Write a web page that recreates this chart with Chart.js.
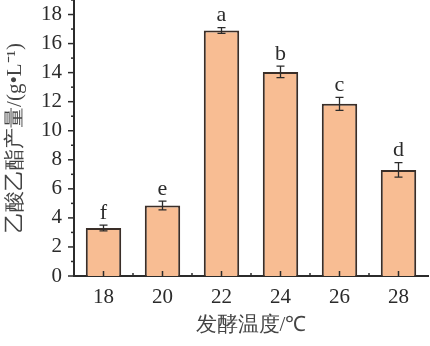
<!DOCTYPE html>
<html>
<head>
<meta charset="utf-8">
<script src="https://cdn.jsdelivr.net/npm/chart.js@4/dist/chart.umd.min.js"></script>
<style>
  html, body { margin: 0; padding: 0; background: #fff; }
  #wrap { width: 430px; height: 346px; }
</style>
</head>
<body>
<div id="wrap"><canvas id="myChart"></canvas></div>
<script>
// data
const temps = ['18', '20', '22', '24', '26', '28']
const yields = [3.3, 4.85, 16.9, 14.05, 11.85, 7.3]
const errors = [0.2, 0.3, 0.2, 0.4, 0.45, 0.5]
const letters = ['f', 'e', 'a', 'b', 'c', 'd']

const serif = '"Liberation Serif", "Times New Roman", serif'
const ink = '#2b2b2b'

// error bars, significance letters, tick marks
const extras = {
  id: 'extras',
  afterDatasetsDraw(chart) {
    const ctx = chart.ctx
    const x = chart.scales.x
    const y = chart.scales.y
    ctx.save()
    ctx.strokeStyle = ink
    ctx.lineWidth = 1.3
    yields.forEach((v, i) => {
      const cx = x.getPixelForValue(i)
      const top = y.getPixelForValue(v + errors[i])
      const bot = y.getPixelForValue(v - errors[i])
      ctx.beginPath()
      ctx.moveTo(cx, top); ctx.lineTo(cx, bot)
      ctx.moveTo(cx - 4, top); ctx.lineTo(cx + 4, top)
      ctx.moveTo(cx - 4, bot); ctx.lineTo(cx + 4, bot)
      ctx.stroke()
      ctx.fillStyle = ink
      ctx.font = '22px ' + serif
      ctx.textAlign = 'center'
      ctx.textBaseline = 'bottom'
      ctx.fillText(letters[i], cx, top - 1)
    })

    // y ticks, outward
    ctx.lineWidth = 1.5
    for (let t = 0; t <= 19; t++) {
      const py = y.getPixelForValue(t)
      const len = t % 2 === 0 ? 6 : 3
      ctx.beginPath()
      ctx.moveTo(y.right, py); ctx.lineTo(y.right - len, py)
      ctx.stroke()
    }
    // x ticks, inward
    const bottom = x.top
    for (let i = 0; i < temps.length; i++) {
      const c = x.getPixelForValue(i)
      ctx.beginPath()
      ctx.moveTo(c, bottom); ctx.lineTo(c, bottom - 5)
      ctx.stroke()
      if (i < temps.length - 1) {
        const m = (c + x.getPixelForValue(i + 1)) / 2
        ctx.beginPath()
        ctx.moveTo(m, bottom); ctx.lineTo(m, bottom - 3)
        ctx.stroke()
      }
    }
    ctx.restore()
  }
}

const ctx = document.getElementById('myChart')
new Chart(ctx, {
  type: 'bar',
  data: {
    labels: temps,
    datasets: [{
      data: yields,
      backgroundColor: '#f8bd93',
      borderColor: '#3a2e28',
      borderWidth: 2,
      borderSkipped: 'bottom',
      barPercentage: 0.6,
      categoryPercentage: 1
    }]
  },
  options: {
    responsive: true,
    maintainAspectRatio: false,
    animation: false,
    layout: { padding: { top: 0, right: 2, left: 0, bottom: 0 } },
    plugins: {
      legend: { display: false },
      tooltip: { enabled: false }
    },
    scales: {
      x: {
        grid: { display: false, drawTicks: false },
        border: { display: true, color: ink, width: 2 },
        ticks: { color: ink, font: { family: serif, size: 21 }, padding: 9 },
        title: {
          display: true,
          text: '发酵温度/℃',
          color: '#444',
          font: { family: serif, size: 21 },
          padding: { top: 2, bottom: 8 }
        },
        afterFit: s => { s.height = 70; s.paddingLeft = 0; s.paddingRight = 0 }
      },
      y: {
        min: 0,
        max: 19,
        grid: { display: false, drawTicks: false },
        border: { display: true, color: ink, width: 2 },
        ticks: {
          stepSize: 1,
          color: ink,
          font: { family: serif, size: 21 },
          padding: 12,
          callback: v => (v % 2 === 0 ? v : '')
        },
        title: {
          display: true,
          text: '乙酸乙酯产量/(g•L⁻¹)',
          color: '#444',
          font: { family: serif, size: 21 },
          padding: { top: 3, bottom: 2 }
        },
        afterFit: s => { s.width = 74; s.paddingTop = 0; s.paddingBottom = 0 }
      }
    }
  },
  plugins: [extras]
})
</script>
</body>
</html>
